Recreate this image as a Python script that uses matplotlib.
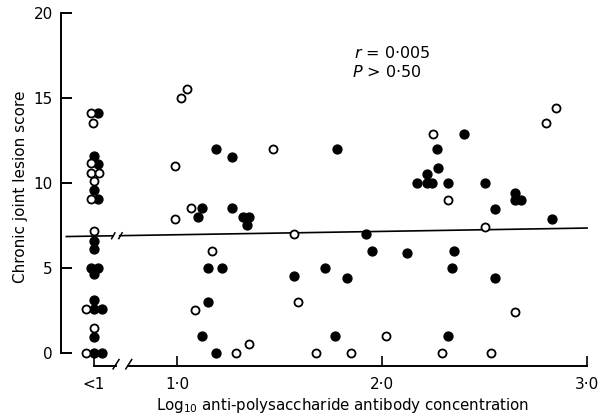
import numpy as np
import matplotlib.pyplot as plt

plt.rcParams['font.family'] = 'DejaVu Sans'
plt.rcParams['mathtext.default'] = 'regular'

# position used for the "<1" column on the log axis
lt1_pos = 0.595

# "<1" column, filled circles
lt1_filled_x = [0.615, 0.595, 0.615, 0.595, 0.615, 0.595, 0.595, 0.578, 0.613,
                0.595, 0.595, 0.595, 0.634, 0.595, 0.595, 0.634]
lt1_filled_y = [14.1, 11.6, 11.1, 9.6, 9.05, 6.6, 6.1, 5.0, 5.0,
                4.65, 3.1, 2.6, 2.6, 0.95, 0.0, 0.0]

# "<1" column, open circles
lt1_open_x = [0.578, 0.588, 0.578, 0.578, 0.617, 0.595, 0.578, 0.595, 0.556, 0.595, 0.556]
lt1_open_y = [14.1, 13.5, 11.15, 10.6, 10.6, 10.1, 9.05, 7.15, 2.6, 1.45, 0.0]

# measurable concentrations, filled circles
filled_x = [1.19, 1.27, 1.12, 1.10, 1.27, 1.32, 1.35, 1.34, 1.15, 1.22, 1.57, 1.15,
            1.12, 1.19, 1.78, 1.92, 1.95, 2.12, 1.72, 1.83, 1.77, 2.27, 2.275, 2.22,
            2.17, 2.22, 2.245, 2.40, 2.32, 2.50, 2.65, 2.65, 2.68, 2.55, 2.83, 2.35,
            2.34, 2.55, 2.32]
filled_y = [12.0, 11.5, 8.5, 8.0, 8.55, 8.0, 8.0, 7.5, 5.0, 5.0, 4.5, 3.0,
            1.0, 0.0, 12.0, 7.0, 6.0, 5.9, 5.0, 4.4, 1.0, 12.0, 10.9, 10.5,
            10.0, 10.0, 10.0, 12.9, 10.0, 10.0, 9.4, 9.0, 9.0, 8.45, 7.9, 6.0,
            5.0, 4.4, 1.0]

# measurable concentrations, open circles
open_x = [1.05, 1.02, 1.47, 0.99, 1.07, 0.99, 1.57, 1.17, 1.59, 1.09, 1.29, 1.35,
          1.68, 1.85, 2.02, 2.25, 2.32, 2.50, 2.65, 2.29, 2.53, 2.85, 2.80]
open_y = [15.5, 15.0, 12.0, 11.0, 8.5, 7.9, 7.0, 6.0, 3.0, 2.5, 0.0, 0.5,
          0.0, 0.0, 1.0, 12.9, 9.0, 7.4, 2.4, 0.0, 0.0, 14.4, 13.5]

# regression line end points
reg_x = [0.46, 3.0]
reg_y = [6.85, 7.35]

xtick_pos = [lt1_pos, 1.0, 2.0, 3.0]
xtick_labels = ['<1', '1·0', '2·0', '3·0']
ytick_pos = [0, 5, 10, 15, 20]
ytick_labels = ['0', '5', '10', '15', '20']

fig = plt.figure(figsize=(6.03, 4.18), dpi=100)
ax = fig.add_axes([61 / 603, 52 / 418, 539 / 603, 358 / 418])
ax.set_xlim(0.434, 3.063)
ax.set_ylim(-0.765, 20.294)

# regression line with a break
brk_a, brk_b = 0.685, 0.72
xa = np.array([reg_x[0], brk_a])
xb = np.array([brk_b, reg_x[1]])
ax.plot(xa, np.interp(xa, reg_x, reg_y), color='black', lw=1.2, zorder=2)
ax.plot(xb, np.interp(xb, reg_x, reg_y), color='black', lw=1.2, zorder=2)
for bx in (brk_a, brk_b):
    by = np.interp(bx, reg_x, reg_y)
    ax.plot([bx - 0.004, bx + 0.012], [by - 0.17, by + 0.17], color='black', lw=1.1)

# points
ax.plot(lt1_filled_x, lt1_filled_y, 'o', color='black', ms=6.4, clip_on=False, zorder=3)
ax.plot(filled_x, filled_y, 'o', color='black', ms=6.4, clip_on=False, zorder=3)
ax.plot(lt1_open_x, lt1_open_y, 'o', mfc='white', mec='black', mew=1.3, ms=5.8,
        clip_on=False, zorder=3)
ax.plot(open_x, open_y, 'o', mfc='white', mec='black', mew=1.3, ms=5.8,
        clip_on=False, zorder=3)

# axes
for s in ['top', 'right', 'bottom']:
    ax.spines[s].set_visible(False)
ax.spines['left'].set_bounds(0, 20)
ax.spines['left'].set_linewidth(1.4)

tr = ax.get_xaxis_transform()
ax.plot([lt1_pos, 0.702], [0, 0], color='black', lw=1.4, transform=tr, clip_on=False)
ax.plot([0.761, 3.0], [0, 0], color='black', lw=1.4, transform=tr, clip_on=False)
for sx in (0.7, 0.762):
    ax.plot([sx - 0.012, sx + 0.017], [-0.008, 0.018], color='black', lw=1.1,
            transform=tr, clip_on=False)

ax.set_xticks(xtick_pos)
ax.set_xticklabels(xtick_labels)
ax.set_yticks(ytick_pos)
ax.set_yticklabels(ytick_labels)
ax.tick_params(axis='y', direction='in', length=8, width=1.4, pad=6, labelsize=11)
ax.tick_params(axis='x', direction='in', length=7, width=1.2, pad=8, labelsize=11)

ax.set_ylabel('Chronic joint lesion score', fontsize=11)
ax.yaxis.set_label_coords((28 - 61) / 539, 0.5)
ax.set_xlabel(r'Log$_{10}$ anti-polysaccharide antibody concentration', fontsize=10.8)
ax.xaxis.set_label_coords((343 - 61) / 539, (366 - 396) / 358)

ax.text(1.863, 17.65, r'$\mathit{r}$ = 0·005', fontsize=11.5, va='center', ha='left')
ax.text(1.853, 16.5, r'$\mathit{P}$ > 0·50', fontsize=11.5, va='center', ha='left')

fig.savefig('out.png', dpi=100)
